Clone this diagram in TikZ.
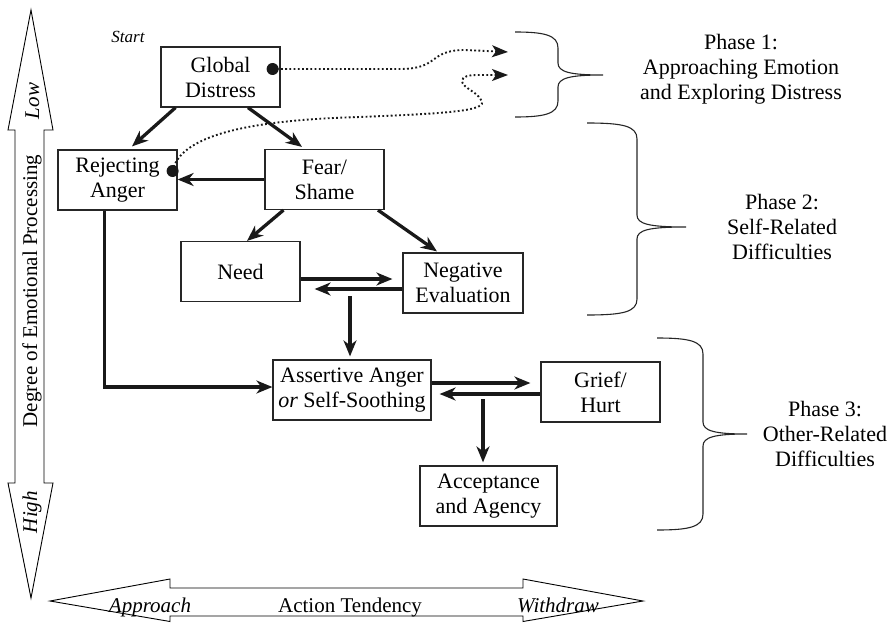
\documentclass[tikz,border=0pt]{standalone}
\usepackage{fontspec}
\setmainfont{Liberation Serif}
\usepackage{tikz}
\usetikzlibrary{calc,arrows.meta}
\def\phbrace(#1,#2,#3)(#4,#5,#6){\draw[line width=1.1pt, color=black!85] (#1,#4) .. controls (#2-14,#4) and (#2,#4+3) .. (#2,#4+16) -- (#2,#5-12) .. controls (#2,#5-3) and (#2+12,#5) .. (#3,#5) .. controls (#2+12,#5) and (#2,#5+3) .. (#2,#5+12) -- (#2,#6-16) .. controls (#2,#6-3) and (#2-14,#6) .. (#1,#6);}

\begin{document}
\begin{tikzpicture}[x=1pt, y=-1pt,
		box/.style={draw=black!85, line width=1.2pt, minimum width=119pt, minimum height=60pt, inner sep=0pt, align=center, font=\fontsize{22}{25}\selectfont},
		phase/.style={align=center, font=\fontsize{22}{25}\selectfont},
		axis/.style={font=\fontsize{21}{24}\selectfont, anchor=base},
		flow/.style={line width=3.3pt, color=black!90, -{Stealth[length=16pt,width=13pt,inset=5pt]}},
		dotarr/.style={line width=1.9pt, color=black!90, dash pattern=on 1.8pt off 2.4pt, -{Stealth[length=16pt,width=12pt,inset=4pt]}}]
		%%%%% START %%%%%
		
		\useasboundingbox (0,0) rectangle (890,623);
		
		% axes
		\draw[line width=0.9pt] (31,10) -- (53,130) -- (44,130) -- (44,483) -- (53,483) -- (31,598) -- (8,483) -- (15,483) -- (15,130) -- (8,130) -- cycle;
		\node[axis, rotate=90, font=\itshape\fontsize{21}{24}\selectfont] (low) at (39,101) {Low};
		\node[axis, rotate=90] (degree) at (37,291) {Degree of Emotional Processing};
		\node[axis, rotate=90, font=\itshape\fontsize{21}{24}\selectfont] (high) at (37,512) {High};
		
		\draw[line width=0.9pt] (50,601) -- (170,579) -- (170,588) -- (523,588) -- (523,579) -- (643,601) -- (523,621.5) -- (523,616) -- (170,616) -- (170,621.5) -- cycle;
		\node[axis, font=\itshape\fontsize{21}{24}\selectfont] (appr) at (150,612) {Approach};
		\node[axis] (tend) at (350,612) {Action Tendency};
		\node[axis, font=\itshape\fontsize{21}{24}\selectfont] (withd) at (558,612) {Withdraw};
		
		% boxes
		\node[anchor=base, font=\itshape\fontsize{17}{20}\selectfont] (start) at (128,43) {Start};
		\node[box] (dist) at (220.5,77) {Global\\Distress};
		\node[box] (rej) at (117.5,180) {Rejecting\\Anger};
		\node[box] (fear) at (324.5,179.5) {Fear/\\Shame};
		\node[box] (need) at (240.5,271.5) {Need};
		\node[box, minimum width=120pt] (neg) at (463,283) {Negative\\Evaluation};
		\node[box, minimum width=158pt] (asrt) at (352,390) {Assertive Anger\\\textit{or} Self-Soothing};
		\node[box] (grief) at (600.5,392) {Grief/\\Hurt};
		\node[box, minimum width=137pt] (acc) at (488.5,496) {Acceptance\\and Agency};
		
		% arrows
		\draw[flow] ($(dist.south)+(-45,0)$) -- ($(rej.north)+(14.5,-3)$);
		\draw[flow] ($(dist.south)+(27.5,0)$) -- ($(fear.north)+(-22.5,-2)$);
		\draw[flow] (fear.west) -- (fear.west -| rej.east);
		\draw[flow] ($(fear.south)+(-41,0)$) -- ($(need.north)+(6.5,0)$);
		\draw[flow] ($(fear.south)+(53.5,0)$) -- ($(neg.north)+(-26,-1)$);
		\draw[flow] ($(need.east)+(0,7.5)$) -- ($(neg.west)+(-10,-4)$);
		\draw[flow] ($(neg.west)+(0,6)$) -- ($(need.east)+(14,17.5)$);
		\draw[flow] ($(asrt.north)+(-2,-63)$) -- ($(asrt.north)+(-2,-3)$);
		\draw[flow] ($(rej.south)+(-13,0)$) |- ($(asrt.west)+(0,-3)$);
		\draw[flow] ($(asrt.east)+(0,-7)$) -- ($(grief.west)+(-10,-9)$);
		\draw[flow] ($(grief.west)+(0,2)$) -- ($(asrt.east)+(8,4)$);
		\draw[flow] ($(acc.north)+(-5.5,-66)$) -- ($(acc.north)+(-5.5,-3)$);
		
		% dotted links to phase 1
		\coordinate (d1) at ($(dist.east)+(-8,-8)$);
		\coordinate (d2) at ($(rej.east)+(-5,-9)$);
		\coordinate (ph1a) at (508,52);
		\coordinate (ph1b) at (508,75);
		\draw[dotarr] (d1) -- (400,69) .. controls (440,69) and (428,50) .. (465,50) -- (ph1a);
		\draw[dotarr] (d2) .. controls (180,135) and (250,120) .. (360,117) .. controls (430,114) and (485,112) .. (482,102) .. controls (479,92) and (462,88) .. (462,81) .. controls (462,76) and (470,75) .. (478,75) -- (ph1b);
		\fill[black!90] (d1) circle (6pt);
		\fill[black!90] (d2) circle (6pt);
		
		% phases
		\phbrace(515,558,603)(32,75,117);
		\phbrace(587,637,686)(123,227,315);
		\phbrace(657,703,747)(338,434,530);
		\node[phase] (ph1) at (741,69) {Phase 1:\\Approaching Emotion\\and Exploring Distress};
		\node[phase] (ph2) at (782,227) {Phase 2:\\Self-Related\\Difficulties};
		\node[phase] (ph3) at (825,434) {Phase 3:\\Other-Related\\Difficulties};
		
		%%%%% END %%%%%
\end{tikzpicture}
\end{document}
